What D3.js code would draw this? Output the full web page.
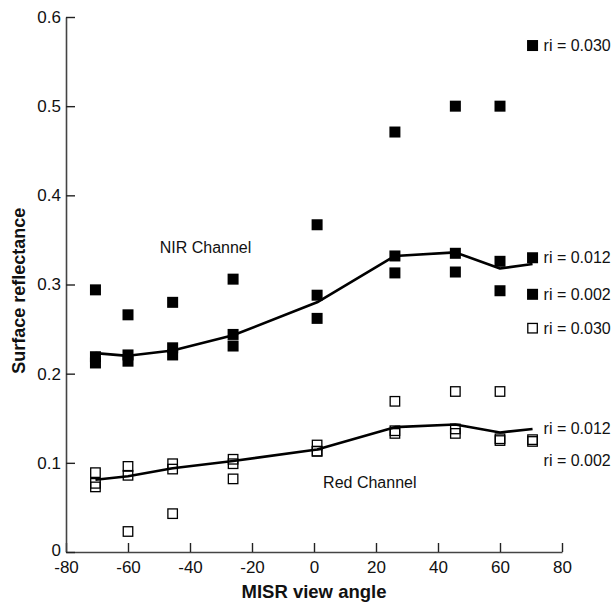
<!DOCTYPE html>
<html><head><meta charset="utf-8">
<script src="https://cdn.jsdelivr.net/npm/d3@7"></script>
<style>body{margin:0;background:#fff}svg{display:block}text{font-family:"Liberation Sans",Arial,Helvetica,sans-serif}</style>
</head><body>
<svg id="c" width="612" height="603"></svg>
<script>
const angles = [-70.5, -60, -45.6, -26.1, 1, 26.1, 45.6, 60, 70.5];
const nir030 = [0.294, 0.266, 0.280, 0.306, 0.367, 0.471, 0.500, 0.500, 0.568];
const nir012 = [0.219, 0.221, 0.229, 0.244, 0.288, 0.332, 0.335, 0.326, 0.330];
const nir002 = [0.212, 0.214, 0.221, 0.231, 0.262, 0.313, 0.314, 0.293, 0.289];
const nirLine = [0.223, 0.220, 0.226, 0.243, 0.280, 0.332, 0.336, 0.318, 0.323];
const red030 = [0.073, 0.023, 0.043, 0.082, 0.113, 0.169, 0.180, 0.180, 0.251];
const red012 = [0.089, 0.096, 0.099, 0.104, 0.120, 0.136, 0.138, 0.127, 0.126];
const red002 = [0.077, 0.086, 0.093, 0.099, 0.113, 0.133, 0.133, 0.125, 0.124];
const redLine = [0.081, 0.085, 0.094, 0.102, 0.115, 0.140, 0.143, 0.134, 0.138];
const xTicks = [-80, -60, -40, -20, 0, 20, 40, 60, 80];
const yTicks = [0, 0.1, 0.2, 0.3, 0.4, 0.5, 0.6];
const riLabels = ["ri = 0.030", "ri = 0.012", "ri = 0.002", "ri = 0.030", "ri = 0.012", "ri = 0.002"];
const riLabelVals = [0.568, 0.330, 0.289, 0.251, 0.139, 0.103];
const channelLabels = ["NIR Channel", "Red Channel"];
const channelPos = [[-35, 0.342], [18, 0.078]];

const svg = d3.select("#c");
const x = d3.scaleLinear().domain([-80, 80]).range([66, 562]);
const y = d3.scaleLinear().domain([0, 0.6]).range([552, 17]);

// axes
const xa = svg.append("g").attr("transform", `translate(0,${y(0)})`)
  .call(d3.axisBottom(x).tickValues(xTicks).tickSizeInner(-9).tickSizeOuter(0).tickPadding(9).tickFormat(d => String(d)));
const ya = svg.append("g").attr("transform", `translate(${x(-80)},0)`)
  .call(d3.axisLeft(y).tickValues(yTicks).tickSizeInner(-9).tickSizeOuter(0).tickPadding(5).tickFormat(d => d === 0 ? "0" : d3.format(".1f")(d)));
[xa, ya].forEach(a => {
  a.select(".domain").attr("stroke", "#444").attr("stroke-width", 1.6);
  a.selectAll(".tick line").attr("stroke", "#222").attr("stroke-width", 1.4);
  a.selectAll(".tick text").attr("font-size", 17).attr("fill", "#111");
});
ya.selectAll(".tick text").filter(d => d === 0).attr("dy", "0.2em");

// lines
const line = d3.line().x((d, i) => x(angles[i])).y(d => y(d));
[nirLine, redLine].forEach(s => {
  svg.append("path").datum(s).attr("d", line).attr("fill", "none")
    .attr("stroke", "#000").attr("stroke-width", 2.6).attr("stroke-linejoin", "round");
});

const S = 11;
[nir030, nir012, nir002].forEach(s => {
  svg.append("g").selectAll("rect").data(s).join("rect")
    .attr("x", (d, i) => x(angles[i]) - S / 2).attr("y", d => y(d) - S / 2)
    .attr("width", S).attr("height", S).attr("fill", "#000");
});
const So = 9.5;
[red030, red012, red002].forEach(s => {
  svg.append("g").selectAll("rect").data(s).join("rect")
    .attr("x", (d, i) => x(angles[i]) - So / 2).attr("y", d => y(d) - So / 2)
    .attr("width", So).attr("height", So).attr("fill", "none")
    .attr("stroke", "#000").attr("stroke-width", 1.3);
});

// ri labels
svg.append("g").selectAll("text").data(riLabels).join("text")
  .attr("x", x(70.5) + 11).attr("y", (d, i) => y(riLabelVals[i])).attr("dy", "0.35em")
  .attr("font-size", 16).attr("fill", "#111").text(d => d);

// channel labels
svg.append("g").selectAll("text").data(channelLabels).join("text")
  .attr("x", (d, i) => x(channelPos[i][0])).attr("y", (d, i) => y(channelPos[i][1])).attr("dy", "0.35em")
  .attr("text-anchor", "middle").attr("font-size", 16).attr("fill", "#111").text(d => d);

// axis titles
svg.append("text").attr("x", x(0)).attr("y", 598).attr("text-anchor", "middle")
  .attr("font-size", 18.5).attr("font-weight", "bold").attr("fill", "#111").text("MISR view angle");
svg.append("text").attr("transform", `translate(25,${y(0.293)}) rotate(-90)`).attr("text-anchor", "middle")
  .attr("font-size", 18).attr("font-weight", "bold").attr("fill", "#111").text("Surface reflectance");
</script>
</body></html>
